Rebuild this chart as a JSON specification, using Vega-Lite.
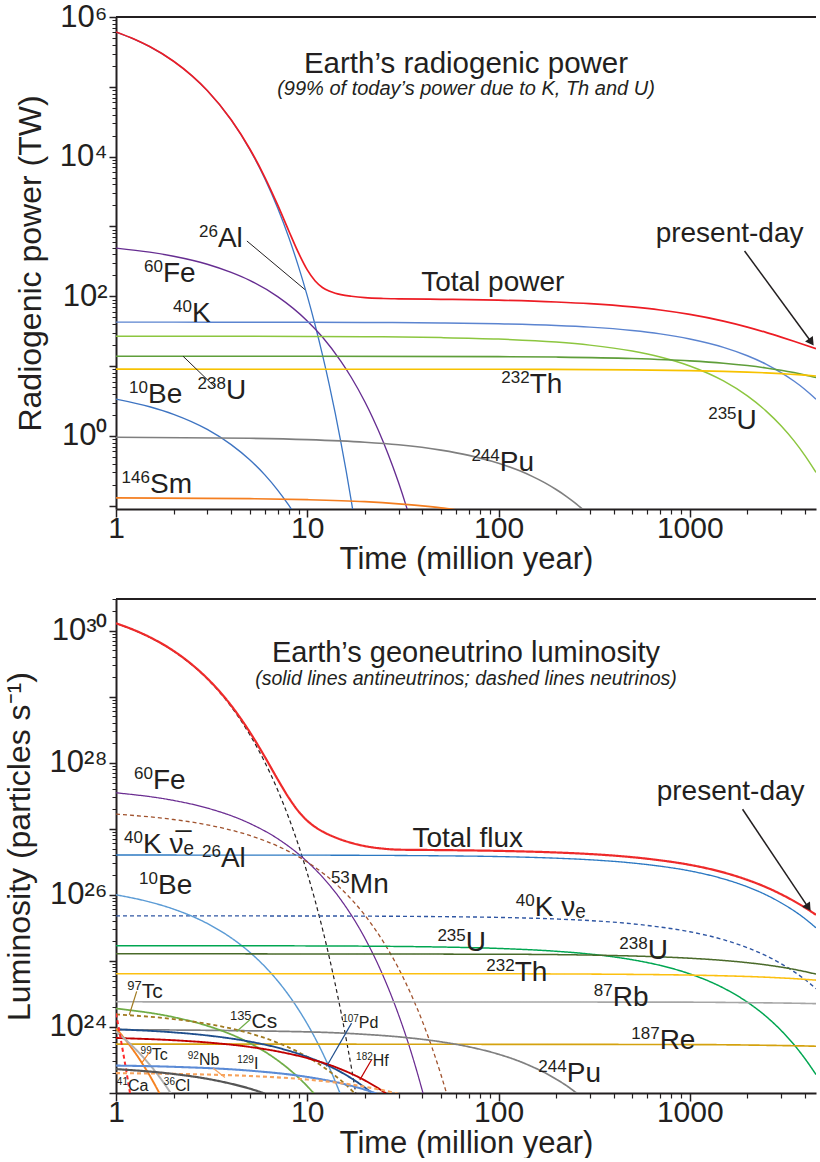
{
"$schema": "https://vega.github.io/schema/vega-lite/v6.json",
"padding": {"left": 3, "top": 1, "right": 0, "bottom": 0},
"background": "white",
"spacing": 24,
"resolve": {"scale": {"color": "independent", "strokeWidth": "independent", "strokeDash": "independent"}},
"config": {
 "view": {"stroke": null},
 "font": "Liberation Sans",
 "axis": {"grid": false, "domainColor": "#231f20", "tickColor": "#231f20", "labelColor": "#231f20", "titleColor": "#231f20", "labelFont": "Liberation Sans", "titleFont": "Liberation Sans", "titleFontWeight": "normal", "labelFlush": false, "labelOverlap": false, "labelBound": false},
 "text": {"font": "Liberation Sans", "color": "#231f20"}
},
"datasets": {
 "topCurves": [
  {"s":"26Al","t":1,"v":610000},{"s":"26Al","t":1.25,"v":479000},{"s":"26Al","t":1.5,"v":376000},{"s":"26Al","t":2,"v":232000},{"s":"26Al","t":2.5,"v":143000},{"s":"26Al","t":3,"v":88200},{"s":"26Al","t":4,"v":33500},{"s":"26Al","t":5,"v":12740},{"s":"26Al","t":6,"v":4845},{"s":"26Al","t":7,"v":1842},{"s":"26Al","t":8,"v":700},{"s":"26Al","t":9,"v":266},{"s":"26Al","t":10,"v":101.3},{"s":"26Al","t":11,"v":38.5},{"s":"26Al","t":12,"v":14.6},{"s":"26Al","t":13,"v":5.58},{"s":"26Al","t":14,"v":2.12},{"s":"26Al","t":15,"v":0.805},{"s":"26Al","t":16,"v":0.306},{"s":"26Al","t":17,"v":0.116},{"s":"26Al","t":18,"v":0.0442},
  {"s":"60Fe","t":1,"v":490},{"s":"60Fe","t":1.5,"v":429},{"s":"60Fe","t":2,"v":375},{"s":"60Fe","t":3,"v":288},{"s":"60Fe","t":4,"v":220},{"s":"60Fe","t":5,"v":169},{"s":"60Fe","t":7,"v":99},{"s":"60Fe","t":10,"v":44.4},{"s":"60Fe","t":12,"v":26.1},{"s":"60Fe","t":15,"v":11.7},{"s":"60Fe","t":17,"v":6.88},{"s":"60Fe","t":20,"v":3.09},{"s":"60Fe","t":22,"v":1.81},{"s":"60Fe","t":25,"v":0.815},{"s":"60Fe","t":28,"v":0.366},{"s":"60Fe","t":30,"v":0.215},{"s":"60Fe","t":33,"v":0.0965},{"s":"60Fe","t":35,"v":0.0568},
  {"s":"10Be","t":1,"v":3.37},{"s":"10Be","t":1.5,"v":2.62},{"s":"10Be","t":2,"v":2.04},{"s":"10Be","t":3,"v":1.24},{"s":"10Be","t":4,"v":0.752},{"s":"10Be","t":5,"v":0.456},{"s":"10Be","t":6,"v":0.277},{"s":"10Be","t":7,"v":0.168},{"s":"10Be","t":8,"v":0.102},{"s":"10Be","t":9,"v":0.0617},
  {"s":"40K","t":1,"v":42.7},{"s":"40K","t":2,"v":42.68},{"s":"40K","t":5,"v":42.6},{"s":"40K","t":10,"v":42.5},{"s":"40K","t":20,"v":42.25},{"s":"40K","t":50,"v":41.55},{"s":"40K","t":100,"v":40.4},{"s":"40K","t":200,"v":38.2},{"s":"40K","t":300,"v":36.2},{"s":"40K","t":500,"v":32.4},{"s":"40K","t":700,"v":29.0},{"s":"40K","t":1000,"v":24.5},{"s":"40K","t":1500,"v":18.6},{"s":"40K","t":2000,"v":14.1},{"s":"40K","t":2500,"v":10.7},{"s":"40K","t":3000,"v":8.08},{"s":"40K","t":3500,"v":6.12},{"s":"40K","t":4000,"v":4.64},{"s":"40K","t":4568,"v":3.37},
  {"s":"235U","t":1,"v":26.9},{"s":"235U","t":10,"v":26.66},{"s":"235U","t":20,"v":26.4},{"s":"235U","t":50,"v":25.63},{"s":"235U","t":100,"v":24.4},{"s":"235U","t":200,"v":22.1},{"s":"235U","t":300,"v":20.0},{"s":"235U","t":500,"v":16.45},{"s":"235U","t":700,"v":13.5},{"s":"235U","t":1000,"v":10.05},{"s":"235U","t":1500,"v":6.14},{"s":"235U","t":2000,"v":3.75},{"s":"235U","t":2500,"v":2.29},{"s":"235U","t":3000,"v":1.40},{"s":"235U","t":3500,"v":0.857},{"s":"235U","t":4000,"v":0.524},{"s":"235U","t":4568,"v":0.301},
  {"s":"238U","t":1,"v":13.9},{"s":"238U","t":10,"v":13.88},{"s":"238U","t":100,"v":13.69},{"s":"238U","t":200,"v":13.48},{"s":"238U","t":500,"v":12.86},{"s":"238U","t":1000,"v":11.9},{"s":"238U","t":1500,"v":11.02},{"s":"238U","t":2000,"v":10.19},{"s":"238U","t":2500,"v":9.43},{"s":"238U","t":3000,"v":8.73},{"s":"238U","t":3500,"v":8.08},{"s":"238U","t":4000,"v":7.48},{"s":"238U","t":4568,"v":6.85},
  {"s":"232Th","t":1,"v":9.06},{"s":"232Th","t":100,"v":9.02},{"s":"232Th","t":500,"v":8.84},{"s":"232Th","t":1000,"v":8.62},{"s":"232Th","t":1500,"v":8.41},{"s":"232Th","t":2000,"v":8.21},{"s":"232Th","t":2500,"v":8.01},{"s":"232Th","t":3000,"v":7.82},{"s":"232Th","t":3500,"v":7.62},{"s":"232Th","t":4000,"v":7.44},{"s":"232Th","t":4568,"v":7.23},
  {"s":"244Pu","t":1,"v":0.96},{"s":"244Pu","t":5,"v":0.927},{"s":"244Pu","t":10,"v":0.887},{"s":"244Pu","t":20,"v":0.814},{"s":"244Pu","t":30,"v":0.747},{"s":"244Pu","t":50,"v":0.628},{"s":"244Pu","t":70,"v":0.528},{"s":"244Pu","t":100,"v":0.407},{"s":"244Pu","t":130,"v":0.314},{"s":"244Pu","t":150,"v":0.264},{"s":"244Pu","t":175,"v":0.213},{"s":"244Pu","t":200,"v":0.171},{"s":"244Pu","t":225,"v":0.138},{"s":"244Pu","t":250,"v":0.111},{"s":"244Pu","t":280,"v":0.0857},
  {"s":"146Sm","t":1,"v":0.13},{"s":"146Sm","t":5,"v":0.1266},{"s":"146Sm","t":10,"v":0.1224},{"s":"146Sm","t":20,"v":0.1145},{"s":"146Sm","t":30,"v":0.1067},{"s":"146Sm","t":40,"v":0.0998},{"s":"146Sm","t":50,"v":0.0935},{"s":"146Sm","t":60,"v":0.0874},
  {"s":"Total","t":1,"v":610600},{"s":"Total","t":1.25,"v":479600},{"s":"Total","t":1.5,"v":376500},{"s":"Total","t":2,"v":232500},{"s":"Total","t":2.5,"v":143400},{"s":"Total","t":3,"v":88600},{"s":"Total","t":4,"v":33800},{"s":"Total","t":5,"v":13000},{"s":"Total","t":6,"v":5068},{"s":"Total","t":7,"v":2035},{"s":"Total","t":8,"v":869},{"s":"Total","t":9,"v":418},{"s":"Total","t":10,"v":239},{"s":"Total","t":11,"v":166},{"s":"Total","t":12,"v":134},{"s":"Total","t":13,"v":119},{"s":"Total","t":14,"v":110.8},{"s":"Total","t":15,"v":105.9},{"s":"Total","t":17,"v":100.3},{"s":"Total","t":20,"v":95.6},{"s":"Total","t":25,"v":93.0},{"s":"Total","t":30,"v":92.1},{"s":"Total","t":50,"v":90.7},{"s":"Total","t":100,"v":88.0},{"s":"Total","t":200,"v":82.9},{"s":"Total","t":300,"v":78.5},{"s":"Total","t":500,"v":70.55},{"s":"Total","t":700,"v":63.7},{"s":"Total","t":1000,"v":55.07},{"s":"Total","t":1500,"v":44.17},{"s":"Total","t":2000,"v":36.25},{"s":"Total","t":2500,"v":30.43},{"s":"Total","t":3000,"v":26.03},{"s":"Total","t":3500,"v":22.68},{"s":"Total","t":4000,"v":20.08},{"s":"Total","t":4568,"v":17.75}
 ],
 "topBig": [
  {"t":3.41,"v":508,"m":"26","e":"Al"},{"t":1.76,"v":160,"m":"60","e":"Fe"},{"t":2.495,"v":42.9,"m":"40","e":"K"},{"t":1.47,"v":2.96,"m":"10","e":"Be"},{"t":3.755,"v":3.38,"m":"238","e":"U"},{"t":1.505,"v":0.1526,"m":"146","e":"Sm"},{"t":145.5,"v":4.13,"m":"232","e":"Th"},{"t":101.5,"v":0.315,"m":"244","e":"Pu"},{"t":1756,"v":1.26,"m":"235","e":"U"}
 ],
 "topPlain": [{"t":93.3,"v":119,"txt":"Total power"},{"t":1614,"v":600,"txt":"present-day"}],
 "topLead": [{"t":4.835,"v":620,"t2":9.72,"v2":125},{"t":3.29,"v":5.03,"t2":2.24,"v2":13.9}],
 "topArrow": [{"t":1933,"v":446,"t2":4276,"v2":22.9}],
 "botCurves": [
  {"s":"26Al","t":1,"v":1.28e30},{"s":"26Al","t":1.25,"v":1.005e30},{"s":"26Al","t":1.5,"v":7.89e29},{"s":"26Al","t":2,"v":4.87e29},{"s":"26Al","t":2.5,"v":3.0e29},{"s":"26Al","t":3,"v":1.85e29},{"s":"26Al","t":4,"v":7.04e28},{"s":"26Al","t":5,"v":2.67e28},{"s":"26Al","t":6,"v":1.016e28},{"s":"26Al","t":7,"v":3.86e27},{"s":"26Al","t":8,"v":1.47e27},{"s":"26Al","t":9,"v":5.59e26},{"s":"26Al","t":10,"v":2.125e26},{"s":"26Al","t":11,"v":8.08e25},{"s":"26Al","t":12,"v":3.07e25},{"s":"26Al","t":13,"v":1.17e25},{"s":"26Al","t":14,"v":4.44e24},{"s":"26Al","t":15,"v":1.69e24},{"s":"26Al","t":16,"v":6.4e23},{"s":"26Al","t":17,"v":2.44e23},{"s":"26Al","t":18,"v":9.3e22},
  {"s":"60Fe","t":1,"v":3.5e27},{"s":"60Fe","t":2,"v":2.68e27},{"s":"60Fe","t":3,"v":2.055e27},{"s":"60Fe","t":5,"v":1.204e27},{"s":"60Fe","t":7,"v":7.07e26},{"s":"60Fe","t":10,"v":3.17e26},{"s":"60Fe","t":12,"v":1.862e26},{"s":"60Fe","t":15,"v":8.38e25},{"s":"60Fe","t":20,"v":2.21e25},{"s":"60Fe","t":25,"v":5.81e24},{"s":"60Fe","t":30,"v":1.533e24},{"s":"60Fe","t":35,"v":4.06e23},{"s":"60Fe","t":40,"v":1.07e23},{"s":"60Fe","t":42,"v":6.3e22},
  {"s":"53Mn","t":1,"v":1.66e27},{"s":"53Mn","t":2,"v":1.379e27},{"s":"53Mn","t":3,"v":1.146e27},{"s":"53Mn","t":5,"v":7.91e26},{"s":"53Mn","t":7,"v":5.46e26},{"s":"53Mn","t":10,"v":3.13e26},{"s":"53Mn","t":15,"v":1.24e26},{"s":"53Mn","t":20,"v":4.91e25},{"s":"53Mn","t":25,"v":1.94e25},{"s":"53Mn","t":30,"v":7.7e24},{"s":"53Mn","t":35,"v":3.05e24},{"s":"53Mn","t":40,"v":1.21e24},{"s":"53Mn","t":45,"v":4.78e23},{"s":"53Mn","t":50,"v":1.89e23},{"s":"53Mn","t":55,"v":7.5e22},
  {"s":"40K anti","t":1,"v":4.0e26},{"s":"40K anti","t":10,"v":3.98e26},{"s":"40K anti","t":50,"v":3.89e26},{"s":"40K anti","t":100,"v":3.79e26},{"s":"40K anti","t":200,"v":3.58e26},{"s":"40K anti","t":300,"v":3.39e26},{"s":"40K anti","t":500,"v":3.03e26},{"s":"40K anti","t":700,"v":2.71e26},{"s":"40K anti","t":1000,"v":2.30e26},{"s":"40K anti","t":1500,"v":1.74e26},{"s":"40K anti","t":2000,"v":1.32e26},{"s":"40K anti","t":2500,"v":1.0e26},{"s":"40K anti","t":3000,"v":7.56e25},{"s":"40K anti","t":3500,"v":5.74e25},{"s":"40K anti","t":4000,"v":4.35e25},{"s":"40K anti","t":4568,"v":3.16e25},
  {"s":"40K nu","t":1,"v":4.8e25},{"s":"40K nu","t":10,"v":4.78e25},{"s":"40K nu","t":50,"v":4.67e25},{"s":"40K nu","t":100,"v":4.55e25},{"s":"40K nu","t":200,"v":4.30e25},{"s":"40K nu","t":300,"v":4.07e25},{"s":"40K nu","t":500,"v":3.64e25},{"s":"40K nu","t":700,"v":3.25e25},{"s":"40K nu","t":1000,"v":2.76e25},{"s":"40K nu","t":1500,"v":2.09e25},{"s":"40K nu","t":2000,"v":1.58e25},{"s":"40K nu","t":2500,"v":1.2e25},{"s":"40K nu","t":3000,"v":9.07e24},{"s":"40K nu","t":3500,"v":6.89e24},{"s":"40K nu","t":4000,"v":5.22e24},{"s":"40K nu","t":4568,"v":3.79e24},
  {"s":"10Be","t":1,"v":1e26},{"s":"10Be","t":1.5,"v":7.79e25},{"s":"10Be","t":2,"v":6.07e25},{"s":"10Be","t":3,"v":3.68e25},{"s":"10Be","t":4,"v":2.23e25},{"s":"10Be","t":5,"v":1.353e25},{"s":"10Be","t":6,"v":8.21e24},{"s":"10Be","t":7,"v":4.98e24},{"s":"10Be","t":8,"v":3.02e24},{"s":"10Be","t":9,"v":1.83e24},{"s":"10Be","t":10,"v":1.11e24},{"s":"10Be","t":11,"v":6.74e23},{"s":"10Be","t":12,"v":4.09e23},{"s":"10Be","t":13,"v":2.48e23},{"s":"10Be","t":14,"v":1.5e23},{"s":"10Be","t":15,"v":9.1e22},
  {"s":"235U","t":1,"v":1.7e25},{"s":"235U","t":10,"v":1.685e25},{"s":"235U","t":50,"v":1.62e25},{"s":"235U","t":100,"v":1.542e25},{"s":"235U","t":200,"v":1.397e25},{"s":"235U","t":300,"v":1.267e25},{"s":"235U","t":500,"v":1.04e25},{"s":"235U","t":700,"v":8.54e24},{"s":"235U","t":1000,"v":6.35e24},{"s":"235U","t":1500,"v":3.88e24},{"s":"235U","t":2000,"v":2.37e24},{"s":"235U","t":2500,"v":1.45e24},{"s":"235U","t":3000,"v":8.86e23},{"s":"235U","t":3500,"v":5.42e23},{"s":"235U","t":4000,"v":3.31e23},{"s":"235U","t":4568,"v":1.9e23},
  {"s":"238U","t":1,"v":1.28e25},{"s":"238U","t":100,"v":1.26e25},{"s":"238U","t":500,"v":1.185e25},{"s":"238U","t":1000,"v":1.096e25},{"s":"238U","t":1500,"v":1.015e25},{"s":"238U","t":2000,"v":9.39e24},{"s":"238U","t":2500,"v":8.69e24},{"s":"238U","t":3000,"v":8.04e24},{"s":"238U","t":3500,"v":7.44e24},{"s":"238U","t":4000,"v":6.88e24},{"s":"238U","t":4568,"v":6.3e24},
  {"s":"232Th","t":1,"v":6.4e24},{"s":"232Th","t":100,"v":6.37e24},{"s":"232Th","t":500,"v":6.24e24},{"s":"232Th","t":1000,"v":6.09e24},{"s":"232Th","t":1500,"v":5.94e24},{"s":"232Th","t":2000,"v":5.8e24},{"s":"232Th","t":2500,"v":5.66e24},{"s":"232Th","t":3000,"v":5.52e24},{"s":"232Th","t":3500,"v":5.39e24},{"s":"232Th","t":4000,"v":5.25e24},{"s":"232Th","t":4568,"v":5.11e24},
  {"s":"87Rb","t":1,"v":2.4e24},{"s":"87Rb","t":1000,"v":2.37e24},{"s":"87Rb","t":2000,"v":2.33e24},{"s":"87Rb","t":3000,"v":2.30e24},{"s":"87Rb","t":4000,"v":2.27e24},{"s":"87Rb","t":4568,"v":2.25e24},
  {"s":"187Re","t":1,"v":5.5e23},{"s":"187Re","t":1000,"v":5.41e23},{"s":"187Re","t":2000,"v":5.32e23},{"s":"187Re","t":3000,"v":5.23e23},{"s":"187Re","t":4000,"v":5.15e23},{"s":"187Re","t":4568,"v":5.1e23},
  {"s":"244Pu","t":1,"v":9.1e23},{"s":"244Pu","t":10,"v":8.42e23},{"s":"244Pu","t":20,"v":7.72e23},{"s":"244Pu","t":30,"v":7.08e23},{"s":"244Pu","t":50,"v":5.95e23},{"s":"244Pu","t":70,"v":5.0e23},{"s":"244Pu","t":100,"v":3.86e23},{"s":"244Pu","t":130,"v":2.98e23},{"s":"244Pu","t":150,"v":2.5e23},{"s":"244Pu","t":175,"v":2.02e23},{"s":"244Pu","t":200,"v":1.62e23},{"s":"244Pu","t":225,"v":1.31e23},{"s":"244Pu","t":250,"v":1.05e23},{"s":"244Pu","t":270,"v":8.85e22},
  {"s":"135Cs","t":1,"v":1.9e24},{"s":"135Cs","t":2,"v":1.406e24},{"s":"135Cs","t":3,"v":1.04e24},{"s":"135Cs","t":4,"v":7.7e23},{"s":"135Cs","t":5,"v":5.7e23},{"s":"135Cs","t":6,"v":4.22e23},{"s":"135Cs","t":7,"v":3.12e23},{"s":"135Cs","t":8,"v":2.31e23},{"s":"135Cs","t":9,"v":1.71e23},{"s":"135Cs","t":10,"v":1.266e23},{"s":"135Cs","t":11,"v":9.37e22},
  {"s":"97Tc","t":1,"v":1.55e24},{"s":"97Tc","t":2,"v":1.315e24},{"s":"97Tc","t":3,"v":1.115e24},{"s":"97Tc","t":5,"v":8.02e23},{"s":"97Tc","t":7,"v":5.77e23},{"s":"97Tc","t":10,"v":3.52e23},{"s":"97Tc","t":12,"v":2.53e23},{"s":"97Tc","t":15,"v":1.55e23},{"s":"97Tc","t":18,"v":9.46e22},
  {"s":"107Pd","t":1,"v":9.2e23},{"s":"107Pd","t":2,"v":8.27e23},{"s":"107Pd","t":3,"v":7.43e23},{"s":"107Pd","t":5,"v":6.0e23},{"s":"107Pd","t":7,"v":4.85e23},{"s":"107Pd","t":10,"v":3.52e23},{"s":"107Pd","t":12,"v":2.85e23},{"s":"107Pd","t":15,"v":2.07e23},{"s":"107Pd","t":18,"v":1.5e23},{"s":"107Pd","t":20,"v":1.21e23},{"s":"107Pd","t":22,"v":9.8e22},{"s":"107Pd","t":23,"v":8.8e22},
  {"s":"182Hf","t":1,"v":6.8e23},{"s":"182Hf","t":2,"v":6.29e23},{"s":"182Hf","t":3,"v":5.82e23},{"s":"182Hf","t":5,"v":4.98e23},{"s":"182Hf","t":7,"v":4.26e23},{"s":"182Hf","t":10,"v":3.37e23},{"s":"182Hf","t":15,"v":2.29e23},{"s":"182Hf","t":20,"v":1.55e23},{"s":"182Hf","t":25,"v":1.05e23},{"s":"182Hf","t":27,"v":8.98e22},
  {"s":"99Tc","t":1,"v":9.5e23},{"s":"99Tc","t":1.1,"v":6.84e23},{"s":"99Tc","t":1.2,"v":4.93e23},{"s":"99Tc","t":1.3,"v":3.55e23},{"s":"99Tc","t":1.4,"v":2.55e23},{"s":"99Tc","t":1.5,"v":1.84e23},{"s":"99Tc","t":1.6,"v":1.32e23},{"s":"99Tc","t":1.7,"v":9.5e22},
  {"s":"36Cl","t":1,"v":8.5e23},{"s":"36Cl","t":1.2,"v":5.36e23},{"s":"36Cl","t":1.4,"v":3.38e23},{"s":"36Cl","t":1.6,"v":2.14e23},{"s":"36Cl","t":1.8,"v":1.35e23},{"s":"36Cl","t":1.9,"v":1.07e23},{"s":"36Cl","t":2.0,"v":8.5e22},
  {"s":"41Ca","t":1,"v":1.6e24},{"s":"41Ca","t":1.05,"v":7.5e23},{"s":"41Ca","t":1.1,"v":3.5e23},{"s":"41Ca","t":1.15,"v":1.65e23},{"s":"41Ca","t":1.2,"v":7.8e22},
  {"s":"129I","t":1,"v":2.6e23},{"s":"129I","t":2,"v":2.49e23},{"s":"129I","t":5,"v":2.18e23},{"s":"129I","t":10,"v":1.75e23},{"s":"129I","t":15,"v":1.403e23},{"s":"129I","t":20,"v":1.124e23},{"s":"129I","t":23,"v":9.8e22},
  {"s":"92Nb","t":1,"v":2e23},{"s":"92Nb","t":5,"v":1.81e23},{"s":"92Nb","t":10,"v":1.597e23},{"s":"92Nb","t":15,"v":1.41e23},{"s":"92Nb","t":20,"v":1.244e23},{"s":"92Nb","t":25,"v":1.098e23},{"s":"92Nb","t":30,"v":9.7e22},
  {"s":"other","t":1,"v":2.3e23},{"s":"other","t":2,"v":1.94e23},{"s":"other","t":3,"v":1.64e23},{"s":"other","t":4,"v":1.38e23},{"s":"other","t":5,"v":1.166e23},{"s":"other","t":6,"v":9.8e22},
  {"s":"Total","t":1,"v":1.286e30},{"s":"Total","t":1.25,"v":1.011e30},{"s":"Total","t":1.5,"v":7.94e29},{"s":"Total","t":2,"v":4.916e29},{"s":"Total","t":2.5,"v":3.04e29},{"s":"Total","t":3,"v":1.887e29},{"s":"Total","t":4,"v":7.34e28},{"s":"Total","t":5,"v":2.92e28},{"s":"Total","t":6,"v":1.223e28},{"s":"Total","t":7,"v":5.6e27},{"s":"Total","t":8,"v":2.95e27},{"s":"Total","t":9,"v":1.83e27},{"s":"Total","t":10,"v":1.32e27},{"s":"Total","t":11,"v":1.062e27},{"s":"Total","t":12,"v":9.1e26},{"s":"Total","t":14,"v":7.39e26},{"s":"Total","t":17,"v":6.11e26},{"s":"Total","t":20,"v":5.46e26},{"s":"Total","t":25,"v":4.99e26},{"s":"Total","t":30,"v":4.82e26},{"s":"Total","t":50,"v":4.75e26},{"s":"Total","t":100,"v":4.62e26},{"s":"Total","t":200,"v":4.37e26},{"s":"Total","t":300,"v":4.14e26},{"s":"Total","t":500,"v":3.71e26},{"s":"Total","t":700,"v":3.325e26},{"s":"Total","t":1000,"v":2.84e26},{"s":"Total","t":1500,"v":2.18e26},{"s":"Total","t":2000,"v":1.68e26},{"s":"Total","t":2500,"v":1.306e26},{"s":"Total","t":3000,"v":1.019e26},{"s":"Total","t":3500,"v":8.05e25},{"s":"Total","t":4000,"v":6.4e25},{"s":"Total","t":4568,"v":4.98e25}
 ],
 "botBig": [
  {"t":1.561,"v":3.97e27,"m":"60","e":"Fe"},{"t":3.537,"v":2.61e26,"m":"26","e":"Al"},{"t":1.384,"v":4.25e26,"m":"40","e":"K ν̅ₑ"},{"t":1.657,"v":1.017e26,"m":"10","e":"Be"},{"t":16.69,"v":1.053e26,"m":"53","e":"Mn"},{"t":154.6,"v":4.72e25,"m":"40","e":"K νₑ"},{"t":67.4,"v":1.392e25,"m":"235","e":"U"},{"t":121.5,"v":4.89e24,"m":"232","e":"Th"},{"t":601.9,"v":1.053e25,"m":"238","e":"U"},{"t":395.2,"v":2.04e24,"m":"87","e":"Rb"},{"t":695.4,"v":4.56e23,"m":"187","e":"Re"},{"t":227.2,"v":1.493e23,"m":"244","e":"Pu"}
 ],
 "botMed": [{"t":1.362,"v":2.75e24,"m":"97","e":"Tc"},{"t":5.117,"v":9.65e23,"m":"135","e":"Cs"}],
 "botSmall": [
  {"t":18.6,"v":9.65e23,"m":"107","e":"Pd"},{"t":22.01,"v":2.52e23,"m":"182","e":"Hf"},{"t":1.537,"v":3.11e23,"m":"99","e":"Tc"},{"t":2.714,"v":2.70e23,"m":"92","e":"Nb"},{"t":5.26,"v":2.27e23,"m":"129","e":"I"},{"t":1.155,"v":1.09e23,"m":"41","e":"Ca"},{"t":2.034,"v":1.09e23,"m":"36","e":"Cl"}
 ],
 "botPlain": [{"t":69.0,"v":5.24e26,"txt":"Total flux"},{"t":1634,"v":2.70e27,"txt":"present-day"}],
 "botLead": [
  {"s":"97Tc","t":1.283,"v":3.45e24,"t2":1.174,"v2":1.53e24},{"s":"135Cs","t":5.012,"v":1.285e24,"t2":4.272,"v2":8.54e23},{"s":"107Pd","t":17.04,"v":1.14e24,"t2":12.61,"v2":2.52e23},{"s":"182Hf","t":21.68,"v":3.18e23,"t2":18.83,"v2":1.58e23},{"s":"99Tc","t":1.505,"v":4.25e23,"t2":1.362,"v2":2.83e23},{"s":"92Nb","t":3.224,"v":2.37e23,"t2":3.711,"v2":1.72e23}
 ],
 "botArrow": [{"t":1887,"v":1.97e27,"t2":4126,"v2":6.69e25}]
},
"vconcat": [
 {
  "width": 700, "height": 492,
  "title": {"text": "Earth’s radiogenic power", "subtitle": "(99% of today’s power due to K, Th and U)", "frame": "group", "offset": -99, "anchor": "middle", "fontSize": 29.5, "fontWeight": "normal", "font": "Liberation Sans", "color": "#231f20", "subtitleFont": "Liberation Sans", "subtitleFontSize": 20, "subtitleFontStyle": "italic", "subtitleColor": "#231f20", "subtitlePadding": 0},
  "resolve": {"axis": {"x": "independent", "y": "independent"}},
  "layer": [
   {"data": {"name": "topCurves"},
    "mark": {"type": "line", "clip": true, "interpolate": "monotone"},
    "encoding": {
     "x": {"field": "t", "type": "quantitative", "scale": {"type": "log", "domain": [1, 4568], "nice": false},
       "axis": {"orient": "bottom", "values": [1, 10, 100, 1000], "format": "d", "tickSize": 8, "tickWidth": 1.5, "domainWidth": 2, "labelFontSize": 30, "labelPadding": -4, "title": "Time (million year)", "titleFontSize": 31, "titlePadding": 1}},
     "y": {"field": "v", "type": "quantitative", "scale": {"type": "log", "domain": [0.09, 1000000], "nice": false},
       "axis": {"orient": "left", "values": [0.1, 1, 10, 100, 1000, 10000, 100000, 1000000], "labelExpr": "datum.value == 1 ? '10⁰' : datum.value == 100 ? '10²' : datum.value == 10000 ? '10⁴' : datum.value == 1000000 ? '10⁶' : ''", "tickSize": 7, "tickWidth": 1.5, "domainWidth": 2, "labelFontSize": 31, "labelPadding": 2, "title": "Radiogenic power (TW)", "titleFontSize": 32, "titlePadding": 12}},
     "color": {"field": "s", "type": "nominal", "legend": null, "scale": {"domain": ["26Al","60Fe","10Be","40K","235U","238U","232Th","244Pu","146Sm","Total"], "range": ["#3b76c4","#662d91","#3e74c2","#5b84d0","#8cc63f","#5f9e3a","#f7c200","#7f7f7f","#f47e20","#ed1c24"]}},
     "strokeWidth": {"field": "s", "type": "nominal", "legend": null, "scale": {"domain": ["26Al","60Fe","10Be","40K","235U","238U","232Th","244Pu","146Sm","Total"], "range": [1.3,1.7,1.5,1.2,1.2,1.2,1.4,1.4,1.7,1.1]}}
    }},
   {"data": {"name": "topBig"},
    "mark": {"type": "text", "align": "right", "baseline": "alphabetic", "fontSize": 17, "dy": -10},
    "encoding": {
     "x": {"field": "t", "type": "quantitative", "axis": {"orient": "bottom", "values": [2,3,4,5,6,7,8,9,20,30,40,50,60,70,80,90,200,300,400,500,600,700,800,900,2000,3000,4000], "tickSize": 5, "tickWidth": 1.2, "labels": false, "domain": false, "title": null}},
     "y": {"field": "v", "type": "quantitative", "axis": {"orient": "left", "values": [0.2,0.3,0.4,0.5,0.6,0.7,0.8,0.9,2,3,4,5,6,7,8,9,20,30,40,50,60,70,80,90,200,300,400,500,600,700,800,900,2000,3000,4000,5000,6000,7000,8000,9000,20000,30000,40000,50000,60000,70000,80000,90000,200000,300000,400000,500000,600000,700000,800000,900000], "tickSize": 4, "tickWidth": 1, "labels": false, "domain": false, "title": null}},
     "text": {"field": "m"}
    }},
   {"data": {"name": "topBig"},
    "mark": {"type": "text", "align": "left", "baseline": "alphabetic", "fontSize": 28},
    "encoding": {"x": {"field": "t", "type": "quantitative", "axis": null}, "y": {"field": "v", "type": "quantitative", "axis": null}, "text": {"field": "e"}}},
   {"data": {"name": "topPlain"},
    "mark": {"type": "text", "align": "center", "baseline": "alphabetic", "fontSize": 28},
    "encoding": {"x": {"field": "t", "type": "quantitative", "axis": null}, "y": {"field": "v", "type": "quantitative", "axis": null}, "text": {"field": "txt"}}},
   {"data": {"name": "topLead"},
    "mark": {"type": "rule", "color": "#231f20", "strokeWidth": 1},
    "encoding": {"x": {"field": "t", "type": "quantitative", "axis": null}, "y": {"field": "v", "type": "quantitative", "axis": null}, "x2": {"field": "t2"}, "y2": {"field": "v2"}}},
   {"data": {"name": "topArrow"},
    "mark": {"type": "rule", "color": "#231f20", "strokeWidth": 1.5},
    "encoding": {"x": {"field": "t", "type": "quantitative", "axis": null}, "y": {"field": "v", "type": "quantitative", "axis": null}, "x2": {"field": "t2"}, "y2": {"field": "v2"}}},
   {"data": {"name": "topArrow"},
    "mark": {"type": "point", "shape": "triangle", "angle": 145, "size": 90, "filled": true, "color": "#231f20", "opacity": 1},
    "encoding": {"x": {"field": "t2", "type": "quantitative", "axis": null}, "y": {"field": "v2", "type": "quantitative", "axis": null}}},
   {"data": {"values": [{}]},
    "mark": {"type": "rule", "color": "#231f20", "strokeWidth": 2},
    "encoding": {"y": {"datum": 1000000, "type": "quantitative", "axis": null}}}
  ]
 },
 {
  "width": 700, "height": 494,
  "title": {"text": "Earth’s geoneutrino luminosity", "subtitle": "(solid lines antineutrinos; dashed lines neutrinos)", "frame": "group", "offset": -90, "anchor": "middle", "fontSize": 29, "fontWeight": "normal", "font": "Liberation Sans", "color": "#231f20", "subtitleFont": "Liberation Sans", "subtitleFontSize": 19.5, "subtitleFontStyle": "italic", "subtitleColor": "#231f20", "subtitlePadding": 2},
  "resolve": {"axis": {"x": "independent", "y": "independent"}},
  "layer": [
   {"data": {"name": "botCurves"},
    "mark": {"type": "line", "clip": true, "interpolate": "monotone"},
    "encoding": {
     "x": {"field": "t", "type": "quantitative", "scale": {"type": "log", "domain": [1, 4568], "nice": false},
       "axis": {"orient": "bottom", "values": [1, 10, 100, 1000], "format": "d", "tickSize": 8, "tickWidth": 1.5, "domainWidth": 2, "labelFontSize": 30, "labelPadding": -4, "title": "Time (million year)", "titleFontSize": 31, "titlePadding": 1}},
     "y": {"field": "v", "type": "quantitative", "scale": {"type": "log", "domain": [1e23, 3e30], "nice": false},
       "axis": {"orient": "left", "values": [1e23, 1e24, 1e25, 1e26, 1e27, 1e28, 1e29, 1e30], "labelExpr": "datum.value == 1e24 ? '10²⁴' : datum.value == 1e26 ? '10²⁶' : datum.value == 1e28 ? '10²⁸' : datum.value == 1e30 ? '10³⁰' : ''", "tickSize": 7, "tickWidth": 1.5, "domainWidth": 2, "labelFontSize": 31, "labelPadding": 2, "title": "Luminosity (particles s⁻¹)", "titleFontSize": 32, "titlePadding": 12}},
     "color": {"field": "s", "type": "nominal", "legend": null, "scale": {"domain": ["26Al","60Fe","53Mn","40K anti","40K nu","10Be","235U","238U","232Th","87Rb","187Re","244Pu","135Cs","97Tc","107Pd","182Hf","99Tc","36Cl","41Ca","129I","92Nb","other","Total"], "range": ["#231f20","#6a2c91","#a0522d","#2b78c2","#2f56a3","#5b9bd5","#00a651","#4a6a2a","#fcc010","#a6a6a6","#d4a20f","#808080","#70ad47","#a07a20","#1f4e8c","#c00000","#f58220","#b0b0b0","#ff2a2a","#5b8bd6","#f7a35c","#555555","#ee2a2a"]}},
     "strokeWidth": {"field": "s", "type": "nominal", "legend": null, "scale": {"domain": ["26Al","60Fe","53Mn","40K anti","40K nu","10Be","235U","238U","232Th","87Rb","187Re","244Pu","135Cs","97Tc","107Pd","182Hf","99Tc","36Cl","41Ca","129I","92Nb","other","Total"], "range": [1.2,2.2,1.2,1.6,1.4,1.8,1.6,1.3,1.6,1.6,1.6,1.8,1.8,1.3,2.0,2.5,2.0,1.8,1.2,1.8,1.2,1.6,1.2]}},
     "strokeDash": {"field": "s", "type": "nominal", "legend": null, "scale": {"domain": ["26Al","60Fe","53Mn","40K anti","40K nu","10Be","235U","238U","232Th","87Rb","187Re","244Pu","135Cs","97Tc","107Pd","182Hf","99Tc","36Cl","41Ca","129I","92Nb","other","Total"], "range": [[4,3],[1,0],[4,3],[1,0],[4,3],[1,0],[1,0],[1,0],[1,0],[1,0],[1,0],[1,0],[1,0],[4,3],[1,0],[1,0],[1,0],[1,0],[4,3],[1,0],[4,3],[1,0],[1,0]]}}
    }},
   {"data": {"name": "botBig"},
    "mark": {"type": "text", "align": "right", "baseline": "alphabetic", "fontSize": 17, "dy": -10},
    "encoding": {
     "x": {"field": "t", "type": "quantitative", "axis": {"orient": "bottom", "values": [2,3,4,5,6,7,8,9,20,30,40,50,60,70,80,90,200,300,400,500,600,700,800,900,2000,3000,4000], "tickSize": 5, "tickWidth": 1.2, "labels": false, "domain": false, "title": null}},
     "y": {"field": "v", "type": "quantitative", "axis": {"orient": "left", "values": [2e23,3e23,4e23,5e23,6e23,7e23,8e23,9e23,2e24,3e24,4e24,5e24,6e24,7e24,8e24,9e24,2e25,3e25,4e25,5e25,6e25,7e25,8e25,9e25,2e26,3e26,4e26,5e26,6e26,7e26,8e26,9e26,2e27,3e27,4e27,5e27,6e27,7e27,8e27,9e27,2e28,3e28,4e28,5e28,6e28,7e28,8e28,9e28,2e29,3e29,4e29,5e29,6e29,7e29,8e29,9e29,2e30,3e30], "tickSize": 4, "tickWidth": 1, "labels": false, "domain": false, "title": null}},
     "text": {"field": "m"}
    }},
   {"data": {"name": "botBig"},
    "mark": {"type": "text", "align": "left", "baseline": "alphabetic", "fontSize": 28},
    "encoding": {"x": {"field": "t", "type": "quantitative", "axis": null}, "y": {"field": "v", "type": "quantitative", "axis": null}, "text": {"field": "e"}}},
   {"data": {"name": "botMed"},
    "mark": {"type": "text", "align": "right", "baseline": "alphabetic", "fontSize": 13, "dy": -8},
    "encoding": {"x": {"field": "t", "type": "quantitative", "axis": null}, "y": {"field": "v", "type": "quantitative", "axis": null}, "text": {"field": "m"}}},
   {"data": {"name": "botMed"},
    "mark": {"type": "text", "align": "left", "baseline": "alphabetic", "fontSize": 21},
    "encoding": {"x": {"field": "t", "type": "quantitative", "axis": null}, "y": {"field": "v", "type": "quantitative", "axis": null}, "text": {"field": "e"}}},
   {"data": {"name": "botSmall"},
    "mark": {"type": "text", "align": "right", "baseline": "alphabetic", "fontSize": 10, "dy": -6},
    "encoding": {"x": {"field": "t", "type": "quantitative", "axis": null}, "y": {"field": "v", "type": "quantitative", "axis": null}, "text": {"field": "m"}}},
   {"data": {"name": "botSmall"},
    "mark": {"type": "text", "align": "left", "baseline": "alphabetic", "fontSize": 16},
    "encoding": {"x": {"field": "t", "type": "quantitative", "axis": null}, "y": {"field": "v", "type": "quantitative", "axis": null}, "text": {"field": "e"}}},
   {"data": {"name": "botPlain"},
    "mark": {"type": "text", "align": "center", "baseline": "alphabetic", "fontSize": 28},
    "encoding": {"x": {"field": "t", "type": "quantitative", "axis": null}, "y": {"field": "v", "type": "quantitative", "axis": null}, "text": {"field": "txt"}}},
   {"data": {"name": "botLead"},
    "mark": {"type": "rule", "strokeWidth": 1.2},
    "encoding": {"x": {"field": "t", "type": "quantitative", "axis": null}, "y": {"field": "v", "type": "quantitative", "axis": null}, "x2": {"field": "t2"}, "y2": {"field": "v2"}, "color": {"field": "s", "type": "nominal", "legend": null}}},
   {"data": {"name": "botArrow"},
    "mark": {"type": "rule", "color": "#231f20", "strokeWidth": 1.5},
    "encoding": {"x": {"field": "t", "type": "quantitative", "axis": null}, "y": {"field": "v", "type": "quantitative", "axis": null}, "x2": {"field": "t2"}, "y2": {"field": "v2"}}},
   {"data": {"name": "botArrow"},
    "mark": {"type": "point", "shape": "triangle", "angle": 146, "size": 90, "filled": true, "color": "#231f20", "opacity": 1},
    "encoding": {"x": {"field": "t2", "type": "quantitative", "axis": null}, "y": {"field": "v2", "type": "quantitative", "axis": null}}},
   {"data": {"values": [{}]},
    "mark": {"type": "rule", "color": "#231f20", "strokeWidth": 2},
    "encoding": {"y": {"datum": 3e30, "type": "quantitative", "axis": null}}}
  ]
 }
]
}
